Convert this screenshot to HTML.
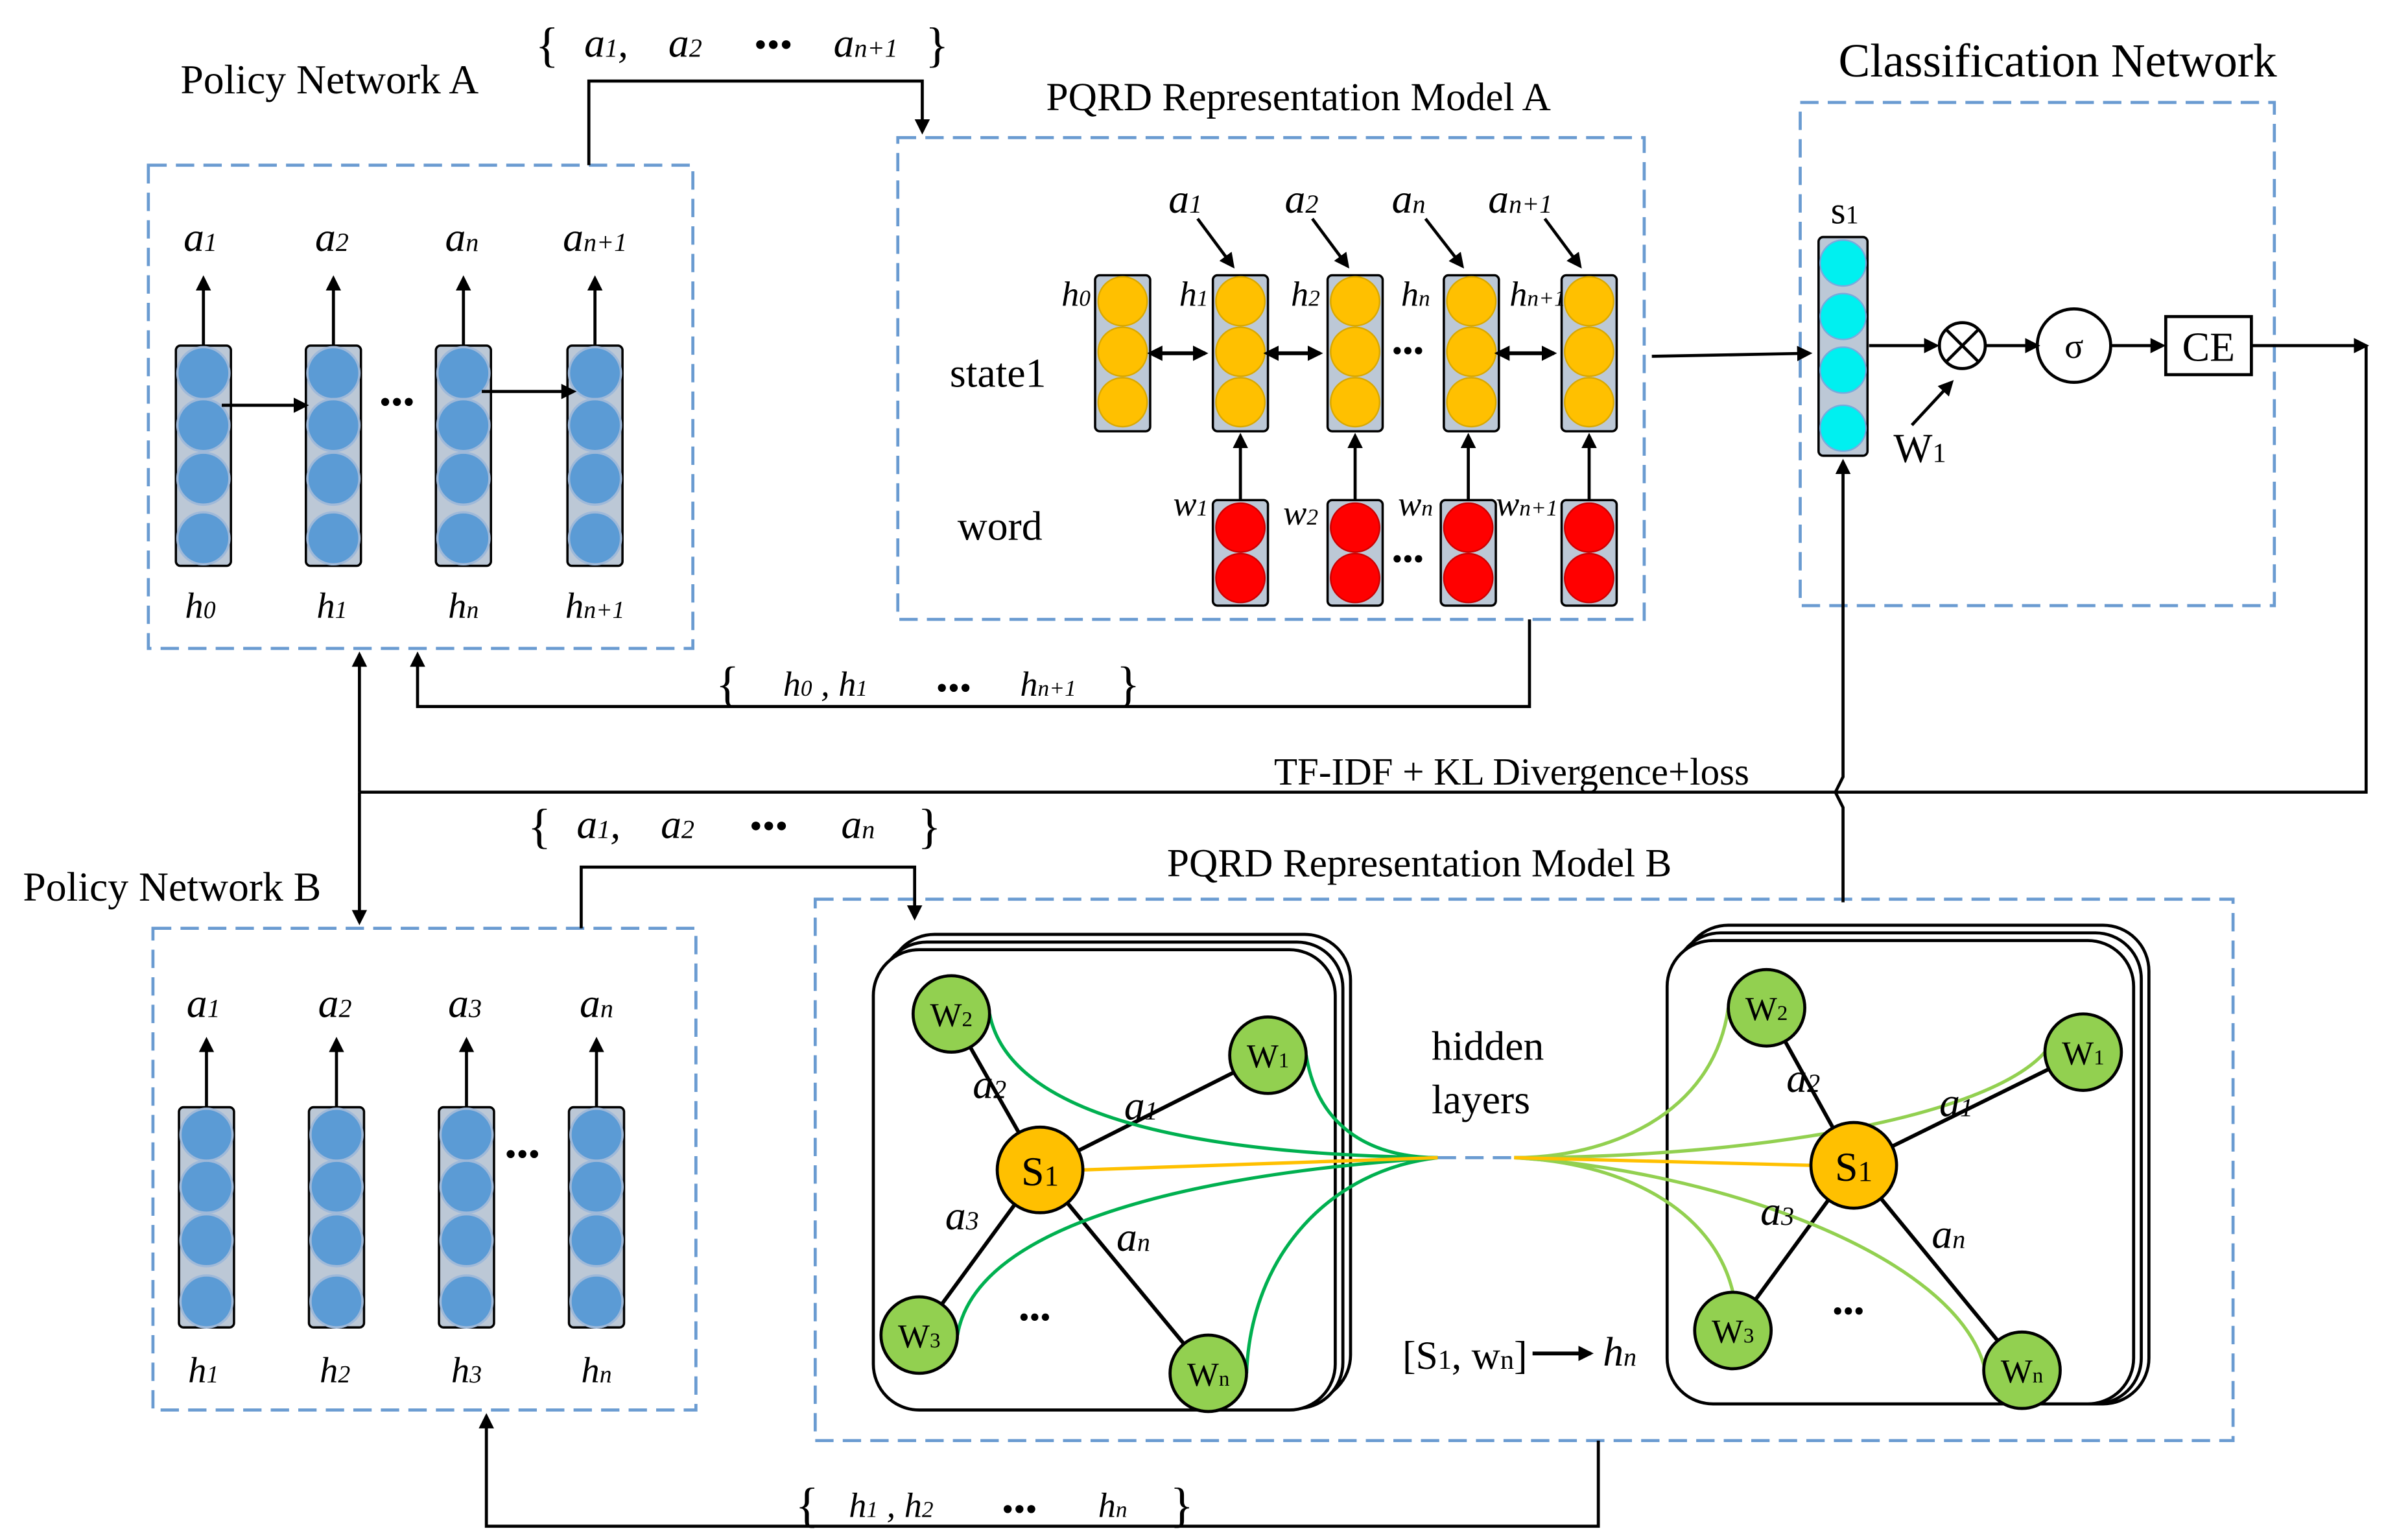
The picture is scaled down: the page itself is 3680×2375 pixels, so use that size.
<!DOCTYPE html>
<html><head><meta charset="utf-8"><style>html,body{margin:0;padding:0;background:#fff}svg{display:block}</style></head>
<body>
<svg xmlns="http://www.w3.org/2000/svg" width="3680" height="2375" viewBox="0 0 1560 1007" preserveAspectRatio="none" font-family="Liberation Serif, serif">
<defs>
<marker id="ar" markerWidth="10" markerHeight="10" refX="8" refY="5" orient="auto" markerUnits="userSpaceOnUse"><path d="M0,0 L10,5 L0,10 z" fill="#000"/></marker>
<marker id="ar2" markerWidth="10" markerHeight="10" refX="2" refY="5" orient="auto-start-reverse" markerUnits="userSpaceOnUse"><path d="M0,0 L10,5 L0,10 z" fill="#000"/></marker>
</defs>
<rect width="1560" height="1007" fill="#fff"/>
<g fill="none" stroke="#6a9bd1" stroke-width="2" stroke-dasharray="12,6">
<rect x="97" y="108" width="356" height="316"/>
<rect x="587" y="90" width="488" height="315"/>
<rect x="1177" y="67" width="310" height="329"/>
<rect x="100" y="607" width="355" height="315"/>
<rect x="533" y="588" width="927" height="354"/>
<line x1="940" y1="757" x2="990" y2="757"/>
</g>
<g font-size="27" fill="#000">
<text x="118" y="61">Policy Network  A</text>
<text x="684" y="72" font-size="26">PQRD Representation Model  A</text>
<text x="1202" y="50" font-size="31">Classification Network</text>
<text x="15" y="589">Policy Network B</text>
<text x="763" y="573" font-size="26">PQRD Representation Model  B</text>
<text x="621" y="253">state1</text>
<text x="626" y="353">word</text>
<text x="833" y="513" font-size="25">TF-IDF + KL Divergence+loss</text>
<text x="936" y="693">hidden</text>
<text x="936" y="728">layers</text>
<text x="917" y="895" font-size="26">[S<tspan font-size="18">1</tspan>, w<tspan font-size="18">n</tspan>]</text>
<text x="1048" y="893" font-style="italic">h<tspan font-size="17">n</tspan></text>
</g>
<line x1="1002" y1="885" x2="1040" y2="885" stroke="#000" stroke-width="2.5" marker-end="url(#ar)"/>
<g stroke="#000" stroke-width="2" fill="none">
<polyline points="385,108 385,53 603,53 603,86" marker-end="url(#ar)"/>
<polyline points="1000,405 1000,462 273,462 273,428" marker-end="url(#ar)"/>
<polyline points="1472,226 1547,226" marker-end="url(#ar)"/>
<polyline points="1547,226 1547,518 235,518"/>
<line x1="235" y1="518" x2="235" y2="428" marker-end="url(#ar)"/>
<line x1="235" y1="518" x2="235" y2="603" marker-end="url(#ar)"/>
<polyline points="1205,590 1205,528 1200,518 1205,508 1205,302" marker-end="url(#ar)"/>
<polyline points="380,607 380,567 598,567 598,600" marker-end="url(#ar)"/>
<polyline points="1045,942 1045,998 318,998 318,926" marker-end="url(#ar)"/>
<line x1="1080" y1="233" x2="1183" y2="231" marker-end="url(#ar)"/>
<line x1="1222" y1="226" x2="1266" y2="226" marker-end="url(#ar)"/>
<line x1="1298" y1="226" x2="1332" y2="226" marker-end="url(#ar)"/>
<line x1="1380" y1="226" x2="1414" y2="226" marker-end="url(#ar)"/>
<line x1="1250" y1="278" x2="1276" y2="250" marker-end="url(#ar)"/>
<rect x="1416" y="207" width="56" height="38"/>
<circle cx="1283" cy="226" r="15"/>
<line x1="1272" y1="215" x2="1294" y2="237"/><line x1="1294" y1="215" x2="1272" y2="237"/>
<circle cx="1356" cy="226" r="24"/>
</g>
<text x="1444" y="236" font-size="27" text-anchor="middle">CE</text>
<text x="1356" y="234" font-size="23" text-anchor="middle">σ</text>
<text x="1238" y="302" font-size="27">W<tspan font-size="18">1</tspan></text>
<g font-size="27" font-style="italic">
<text x="350" y="40" font-style="normal" font-size="32">{</text><text x="382" y="37">a<tspan font-size="17">1</tspan>,</text><text x="437" y="37">a<tspan font-size="17">2</tspan></text><text x="493" y="37" font-style="normal" font-size="24">•••</text><text x="545" y="37">a<tspan font-size="17">n+1</tspan></text><text x="605" y="40" font-style="normal" font-size="32">}</text>
<text x="468" y="458" font-style="normal" font-size="32">{</text><text x="512" y="455" font-size="23">h<tspan font-size="15">0</tspan>  ,   h<tspan font-size="15">1</tspan></text><text x="612" y="457" font-style="normal" font-size="22">•••</text><text x="667" y="455" font-size="23">h<tspan font-size="15">n+1</tspan></text><text x="730" y="458" font-style="normal" font-size="32">}</text>
<text x="345" y="551" font-style="normal" font-size="32">{</text><text x="377" y="548">a<tspan font-size="17">1</tspan>,</text><text x="432" y="548">a<tspan font-size="17">2</tspan></text><text x="490" y="548" font-style="normal" font-size="24">•••</text><text x="550" y="548">a<tspan font-size="17">n</tspan></text><text x="600" y="551" font-style="normal" font-size="32">}</text>
<text x="520" y="995" font-style="normal" font-size="32">{</text><text x="555" y="992" font-size="23">h<tspan font-size="15">1</tspan>  ,   h<tspan font-size="15">2</tspan></text><text x="655" y="994" font-style="normal" font-size="22">•••</text><text x="718" y="992" font-size="23">h<tspan font-size="15">n</tspan></text><text x="765" y="995" font-style="normal" font-size="32">}</text>
</g>
<g stroke="#000" stroke-width="1.5">
<rect x="115" y="226" width="36" height="144" rx="3" fill="#bcc8d6"/>
<rect x="200" y="226" width="36" height="144" rx="3" fill="#bcc8d6"/>
<rect x="285" y="226" width="36" height="144" rx="3" fill="#bcc8d6"/>
<rect x="371" y="226" width="36" height="144" rx="3" fill="#bcc8d6"/>
</g>
<g fill="#5b9bd5" stroke="#9fb9d9" stroke-width="1.5">
<circle cx="133" cy="244" r="17"/><circle cx="133" cy="278" r="17"/><circle cx="133" cy="313" r="17"/><circle cx="133" cy="352" r="17"/>
<circle cx="218" cy="244" r="17"/><circle cx="218" cy="278" r="17"/><circle cx="218" cy="313" r="17"/><circle cx="218" cy="352" r="17"/>
<circle cx="303" cy="244" r="17"/><circle cx="303" cy="278" r="17"/><circle cx="303" cy="313" r="17"/><circle cx="303" cy="352" r="17"/>
<circle cx="389" cy="244" r="17"/><circle cx="389" cy="278" r="17"/><circle cx="389" cy="313" r="17"/><circle cx="389" cy="352" r="17"/>
</g>
<g stroke="#000" stroke-width="2">
<line x1="133" y1="226" x2="133" y2="182" marker-end="url(#ar)"/>
<line x1="218" y1="226" x2="218" y2="182" marker-end="url(#ar)"/>
<line x1="303" y1="226" x2="303" y2="182" marker-end="url(#ar)"/>
<line x1="389" y1="226" x2="389" y2="182" marker-end="url(#ar)"/>
<line x1="145" y1="265" x2="200" y2="265" marker-end="url(#ar)"/>
<line x1="315" y1="256" x2="375" y2="256" marker-end="url(#ar)"/>
</g>
<text x="248" y="270" font-size="22">•••</text>
<g font-size="27" font-style="italic" text-anchor="middle">
<text x="131" y="164">a<tspan font-size="17">1</tspan></text><text x="217" y="164">a<tspan font-size="17">2</tspan></text><text x="302" y="164">a<tspan font-size="17">n</tspan></text><text x="389" y="164">a<tspan font-size="17">n+1</tspan></text>
<text x="131" y="404" font-size="24">h<tspan font-size="16">0</tspan></text><text x="217" y="404" font-size="24">h<tspan font-size="16">1</tspan></text><text x="303" y="404" font-size="24">h<tspan font-size="16">n</tspan></text><text x="389" y="404" font-size="24">h<tspan font-size="16">n+1</tspan></text>
</g>
<g stroke="#000" stroke-width="1.5">
<rect x="117" y="724" width="36" height="144" rx="3" fill="#bcc8d6"/>
<rect x="202" y="724" width="36" height="144" rx="3" fill="#bcc8d6"/>
<rect x="287" y="724" width="36" height="144" rx="3" fill="#bcc8d6"/>
<rect x="372" y="724" width="36" height="144" rx="3" fill="#bcc8d6"/>
</g>
<g fill="#5b9bd5" stroke="#9fb9d9" stroke-width="1.5">
<circle cx="135" cy="742" r="17"/><circle cx="135" cy="776" r="17"/><circle cx="135" cy="811" r="17"/><circle cx="135" cy="851" r="17"/>
<circle cx="220" cy="742" r="17"/><circle cx="220" cy="776" r="17"/><circle cx="220" cy="811" r="17"/><circle cx="220" cy="851" r="17"/>
<circle cx="305" cy="742" r="17"/><circle cx="305" cy="776" r="17"/><circle cx="305" cy="811" r="17"/><circle cx="305" cy="851" r="17"/>
<circle cx="390" cy="742" r="17"/><circle cx="390" cy="776" r="17"/><circle cx="390" cy="811" r="17"/><circle cx="390" cy="851" r="17"/>
</g>
<g stroke="#000" stroke-width="2">
<line x1="135" y1="724" x2="135" y2="680" marker-end="url(#ar)"/>
<line x1="220" y1="724" x2="220" y2="680" marker-end="url(#ar)"/>
<line x1="305" y1="724" x2="305" y2="680" marker-end="url(#ar)"/>
<line x1="390" y1="724" x2="390" y2="680" marker-end="url(#ar)"/>
</g>
<text x="330" y="762" font-size="22">•••</text>
<g font-size="27" font-style="italic" text-anchor="middle">
<text x="133" y="665">a<tspan font-size="17">1</tspan></text><text x="219" y="665">a<tspan font-size="17">2</tspan></text><text x="304" y="665">a<tspan font-size="17">3</tspan></text><text x="390" y="665">a<tspan font-size="17">n</tspan></text>
<text x="133" y="904" font-size="24">h<tspan font-size="16">1</tspan></text><text x="219" y="904" font-size="24">h<tspan font-size="16">2</tspan></text><text x="305" y="904" font-size="24">h<tspan font-size="16">3</tspan></text><text x="390" y="904" font-size="24">h<tspan font-size="16">n</tspan></text>
</g>
<g stroke="#000" stroke-width="1.5" fill="#bcc8d6">
<rect x="716" y="180" width="36" height="102" rx="3"/><rect x="793" y="180" width="36" height="102" rx="3"/><rect x="868" y="180" width="36" height="102" rx="3"/><rect x="944" y="180" width="36" height="102" rx="3"/><rect x="1021" y="180" width="36" height="102" rx="3"/>
<rect x="793" y="327" width="36" height="69" rx="3"/><rect x="868" y="327" width="36" height="69" rx="3"/><rect x="942" y="327" width="36" height="69" rx="3"/><rect x="1021" y="327" width="36" height="69" rx="3"/>
</g>
<g fill="#ffc000" stroke="#d9a800" stroke-width="1">
<circle cx="734" cy="197" r="16"/><circle cx="734" cy="230" r="16"/><circle cx="734" cy="263" r="16"/>
<circle cx="811" cy="197" r="16"/><circle cx="811" cy="230" r="16"/><circle cx="811" cy="263" r="16"/>
<circle cx="886" cy="197" r="16"/><circle cx="886" cy="230" r="16"/><circle cx="886" cy="263" r="16"/>
<circle cx="962" cy="197" r="16"/><circle cx="962" cy="230" r="16"/><circle cx="962" cy="263" r="16"/>
<circle cx="1039" cy="197" r="16"/><circle cx="1039" cy="230" r="16"/><circle cx="1039" cy="263" r="16"/>
</g>
<g fill="#ff0000" stroke="#c00" stroke-width="1">
<circle cx="811" cy="345" r="16"/><circle cx="811" cy="378" r="16"/>
<circle cx="886" cy="345" r="16"/><circle cx="886" cy="378" r="16"/>
<circle cx="960" cy="345" r="16"/><circle cx="960" cy="378" r="16"/>
<circle cx="1039" cy="345" r="16"/><circle cx="1039" cy="378" r="16"/>
</g>
<g stroke="#000" stroke-width="2.5">
<line x1="758" y1="231" x2="788" y2="231" marker-end="url(#ar)" marker-start="url(#ar2)"/>
<line x1="834" y1="231" x2="863" y2="231" marker-end="url(#ar)" marker-start="url(#ar2)"/>
<line x1="985" y1="231" x2="1016" y2="231" marker-end="url(#ar)" marker-start="url(#ar2)"/>
<line x1="811" y1="327" x2="811" y2="285" stroke-width="2" marker-end="url(#ar)"/>
<line x1="886" y1="327" x2="886" y2="285" stroke-width="2" marker-end="url(#ar)"/>
<line x1="960" y1="327" x2="960" y2="285" stroke-width="2" marker-end="url(#ar)"/>
<line x1="1039" y1="327" x2="1039" y2="285" stroke-width="2" marker-end="url(#ar)"/>
<line x1="783" y1="143" x2="806" y2="174" stroke-width="2" marker-end="url(#ar)"/>
<line x1="858" y1="143" x2="881" y2="174" stroke-width="2" marker-end="url(#ar)"/>
<line x1="932" y1="143" x2="956" y2="174" stroke-width="2" marker-end="url(#ar)"/>
<line x1="1010" y1="143" x2="1033" y2="174" stroke-width="2" marker-end="url(#ar)"/>
</g>
<text x="910" y="236" font-size="20">•••</text>
<text x="910" y="372" font-size="20">•••</text>
<g font-size="27" font-style="italic">
<text x="764" y="139">a<tspan font-size="17">1</tspan></text><text x="840" y="139">a<tspan font-size="17">2</tspan></text><text x="910" y="139">a<tspan font-size="17">n</tspan></text><text x="973" y="139">a<tspan font-size="17">n+1</tspan></text>
<g font-size="23"><text x="694" y="200">h<tspan font-size="15">0</tspan></text><text x="771" y="200">h<tspan font-size="15">1</tspan></text><text x="844" y="200">h<tspan font-size="15">2</tspan></text><text x="916" y="200">h<tspan font-size="15">n</tspan></text><text x="987" y="200">h<tspan font-size="15">n+1</tspan></text>
<text x="767" y="337">w<tspan font-size="15">1</tspan></text><text x="839" y="343">w<tspan font-size="15">2</tspan></text><text x="914" y="337">w<tspan font-size="15">n</tspan></text><text x="978" y="337">w<tspan font-size="15">n+1</tspan></text></g>
</g>
<rect x="1189" y="155" width="32" height="143" rx="3" fill="#bcc8d6" stroke="#000" stroke-width="1.5"/>
<g fill="#00f0f0" stroke="#7ad" stroke-width="1"><circle cx="1205" cy="172" r="15"/><circle cx="1205" cy="207" r="15"/><circle cx="1205" cy="242" r="15"/><circle cx="1205" cy="280" r="15"/></g>
<text x="1197" y="146" font-size="25">s<tspan font-size="17">1</tspan></text>
<g fill="#fff" stroke="#000" stroke-width="2">
<rect x="581" y="611" width="302" height="305" rx="30"/>
<rect x="576" y="616" width="302" height="305" rx="30"/>
<rect x="571" y="621" width="302" height="301" rx="30"/>
<rect x="1100" y="605" width="305" height="313" rx="30"/>
<rect x="1095" y="610" width="305" height="308" rx="30"/>
<rect x="1090" y="615" width="305" height="303" rx="30"/>
</g>
<g stroke="#000" stroke-width="2.5">
<line x1="680" y1="765" x2="622" y2="663"/><line x1="680" y1="765" x2="829" y2="690"/><line x1="680" y1="765" x2="601" y2="873"/><line x1="680" y1="765" x2="790" y2="898"/>
<line x1="1212" y1="762" x2="1155" y2="659"/><line x1="1212" y1="762" x2="1362" y2="688"/><line x1="1212" y1="762" x2="1133" y2="870"/><line x1="1212" y1="762" x2="1322" y2="896"/>
</g>
<g fill="none" stroke-width="2.2">
<path d="M647,663 C660,730 780,755 940,757" stroke="#00b050"/>
<path d="M854,690 C862,740 900,757 940,757" stroke="#00b050"/>
<path d="M626,873 C640,790 820,765 940,757" stroke="#00b050"/>
<path d="M815,898 C818,820 870,765 940,757" stroke="#00b050"/>
<path d="M708,765 L940,757" stroke="#ffc000"/>
<path d="M1130,659 C1120,730 1050,757 990,757" stroke="#92d050"/>
<path d="M1337,688 C1300,730 1150,757 990,757" stroke="#92d050"/>
<path d="M1133,845 C1120,790 1060,760 990,757" stroke="#92d050"/>
<path d="M1298,896 C1280,820 1120,765 990,757" stroke="#92d050"/>
<path d="M1184,762 L990,757" stroke="#ffc000"/>
</g>
<g stroke="#000" stroke-width="2">
<circle cx="680" cy="765" r="28" fill="#ffc000"/><circle cx="1212" cy="762" r="28" fill="#ffc000"/>
<g fill="#92d050"><circle cx="622" cy="663" r="25"/><circle cx="829" cy="690" r="25"/><circle cx="601" cy="873" r="25"/><circle cx="790" cy="898" r="25"/>
<circle cx="1155" cy="659" r="25"/><circle cx="1362" cy="688" r="25"/><circle cx="1133" cy="870" r="25"/><circle cx="1322" cy="896" r="25"/></g>
</g>
<g font-size="22" text-anchor="middle">
<text x="680" y="775" font-size="27">S<tspan font-size="19">1</tspan></text><text x="1212" y="772" font-size="27">S<tspan font-size="19">1</tspan></text>
<text x="622" y="671">W<tspan font-size="14">2</tspan></text><text x="829" y="698">W<tspan font-size="14">1</tspan></text><text x="601" y="881">W<tspan font-size="14">3</tspan></text><text x="790" y="906">W<tspan font-size="14">n</tspan></text>
<text x="1155" y="667">W<tspan font-size="14">2</tspan></text><text x="1362" y="696">W<tspan font-size="14">1</tspan></text><text x="1133" y="878">W<tspan font-size="14">3</tspan></text><text x="1322" y="904">W<tspan font-size="14">n</tspan></text>
</g>
<g font-size="27" font-style="italic">
<text x="636" y="718">a<tspan font-size="17">2</tspan></text><text x="735" y="732">a<tspan font-size="17">1</tspan></text><text x="618" y="804">a<tspan font-size="17">3</tspan></text><text x="730" y="818">a<tspan font-size="17">n</tspan></text>
<text x="1168" y="714">a<tspan font-size="17">2</tspan></text><text x="1268" y="730">a<tspan font-size="17">1</tspan></text><text x="1151" y="801">a<tspan font-size="17">3</tspan></text><text x="1263" y="816">a<tspan font-size="17">n</tspan></text>
</g>
<text x="666" y="868" font-size="20">•••</text>
<text x="1198" y="864" font-size="20">•••</text>
</svg>
</body></html>
